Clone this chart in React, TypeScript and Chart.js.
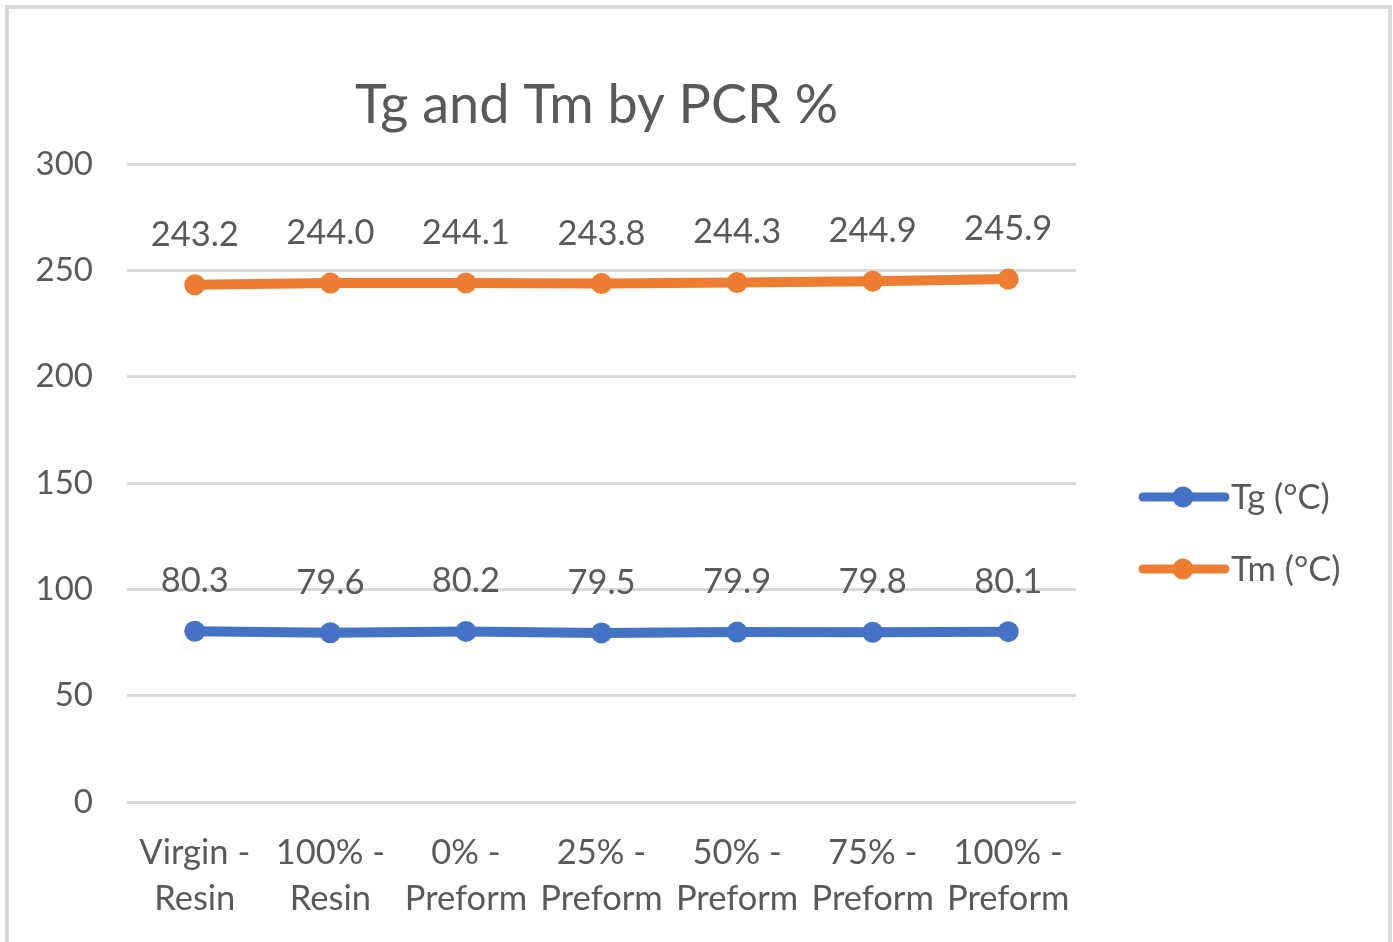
import React, { useEffect, useRef } from 'react';
import { Chart, registerables } from 'chart.js';

Chart.register(...registerables);

const chartTitle = 'Tg and Tm by PCR %';
const categories: string[][] = [
  ['Virgin -', 'Resin'],
  ['100% -', 'Resin'],
  ['0% -', 'Preform'],
  ['25% -', 'Preform'],
  ['50% -', 'Preform'],
  ['75% -', 'Preform'],
  ['100% -', 'Preform'],
];
const tgValues = [80.3, 79.6, 80.2, 79.5, 79.9, 79.8, 80.1];
const tmValues = [243.2, 244.0, 244.1, 243.8, 244.3, 244.9, 245.9];
const yTickValues = [0, 50, 100, 150, 200, 250, 300];
const seriesNames = ['Tg (°C)', 'Tm (°C)'];
const seriesColors = ['#4472C4', '#ED7D31'];

const FONT = 'Lato, "Open Sans", sans-serif';
const TEXT = '#595959';

const titlePlugin = {
  id: 'customTitle',
  afterDraw(chart: any) {
    const { ctx, chartArea } = chart;
    ctx.save();
    ctx.font = `54px ${FONT}`;
    ctx.fillStyle = TEXT;
    ctx.textAlign = 'center';
    ctx.textBaseline = 'alphabetic';
    ctx.fillText(chartTitle, (chartArea.left + chartArea.right) / 2 - 5, chartArea.top - 41);
    ctx.restore();
  },
};

const dataLabelPlugin = {
  id: 'dataLabels',
  afterDatasetsDraw(chart: any) {
    const { ctx } = chart;
    ctx.save();
    ctx.font = `34.5px ${FONT}`;
    ctx.fillStyle = TEXT;
    ctx.textAlign = 'center';
    ctx.textBaseline = 'alphabetic';
    chart.data.datasets.forEach((ds: any, i: number) => {
      const meta = chart.getDatasetMeta(i);
      meta.data.forEach((pt: any, j: number) => {
        ctx.fillText(Number(ds.data[j]).toFixed(1), pt.x, pt.y - 39);
      });
    });
    ctx.restore();
  },
};

const legendPlugin = {
  id: 'customLegend',
  afterDraw(chart: any) {
    const { ctx, chartArea } = chart;
    const x0 = chartArea.right + 64;
    const rows = [497, 569];
    ctx.save();
    chart.data.datasets.forEach((ds: any, i: number) => {
      const y = rows[i];
      ctx.strokeStyle = ds.borderColor;
      ctx.lineWidth = 9;
      ctx.lineCap = 'round';
      ctx.beginPath();
      ctx.moveTo(x0 + 3, y);
      ctx.lineTo(x0 + 85, y);
      ctx.stroke();
      ctx.fillStyle = ds.borderColor;
      ctx.beginPath();
      ctx.arc(x0 + 43, y, 10.5, 0, Math.PI * 2);
      ctx.fill();
      ctx.font = `34.5px ${FONT}`;
      ctx.fillStyle = TEXT;
      ctx.textAlign = 'left';
      ctx.textBaseline = 'middle';
      ctx.fillText(ds.label, x0 + 91, y + 1);
    });
    ctx.restore();
  },
};

export default function App() {
  const ref = useRef<HTMLCanvasElement | null>(null);

  useEffect(() => {
    if (!ref.current) return;
    const chart = new Chart(ref.current, {
      type: 'line',
      data: {
        labels: categories,
        datasets: [
          {
            label: seriesNames[0],
            data: tgValues,
            borderColor: seriesColors[0],
            backgroundColor: seriesColors[0],
            borderWidth: 10,
            pointRadius: 10.5,
            pointHoverRadius: 10.5,
            pointBorderWidth: 0,
            tension: 0,
          },
          {
            label: seriesNames[1],
            data: tmValues,
            borderColor: seriesColors[1],
            backgroundColor: seriesColors[1],
            borderWidth: 10,
            pointRadius: 10.5,
            pointHoverRadius: 10.5,
            pointBorderWidth: 0,
            tension: 0,
          },
        ],
      },
      options: {
        responsive: false,
        animation: false,
        events: [],
        layout: { padding: { left: 0, right: 317, top: 164, bottom: 0 } },
        plugins: {
          legend: { display: false },
          title: { display: false },
          tooltip: { enabled: false },
        },
        scales: {
          x: {
            offset: true,
            grid: { display: false, drawTicks: false },
            border: { display: false },
            ticks: {
              color: TEXT,
              font: { family: FONT, size: 34.5, lineHeight: 1.34 },
              padding: 28,
              maxRotation: 0,
              autoSkip: false,
            },
            afterFit(scale: any) {
              scale.height = 140;
            },
          },
          y: {
            min: 0,
            max: 300,
            afterBuildTicks(scale: any) {
              scale.ticks = yTickValues.map((v) => ({ value: v }));
            },
            grid: { color: '#d9d9d9', lineWidth: 3, drawTicks: false },
            border: { display: false },
            ticks: {
              color: TEXT,
              font: { family: FONT, size: 33 },
              padding: 34,
            },
            afterFit(scale: any) {
              scale.width = 127;
            },
          },
        },
      },
      plugins: [titlePlugin, dataLabelPlugin, legendPlugin],
    });
    return () => chart.destroy();
  }, []);

  return (
    <div
      style={{
        position: 'fixed',
        left: 0,
        top: 0,
        width: 1393,
        height: 942,
        overflow: 'hidden',
        background: '#ffffff',
      }}
    >
      <div
        style={{
          position: 'absolute',
          left: 5,
          top: 5,
          width: 1387,
          height: 960,
          boxSizing: 'border-box',
          border: '4px solid #d9d9d9',
        }}
      />
      <canvas
        ref={ref}
        width={1393}
        height={942}
        style={{ position: 'absolute', left: 0, top: 0, width: 1393, height: 942 }}
      />
    </div>
  );
}
